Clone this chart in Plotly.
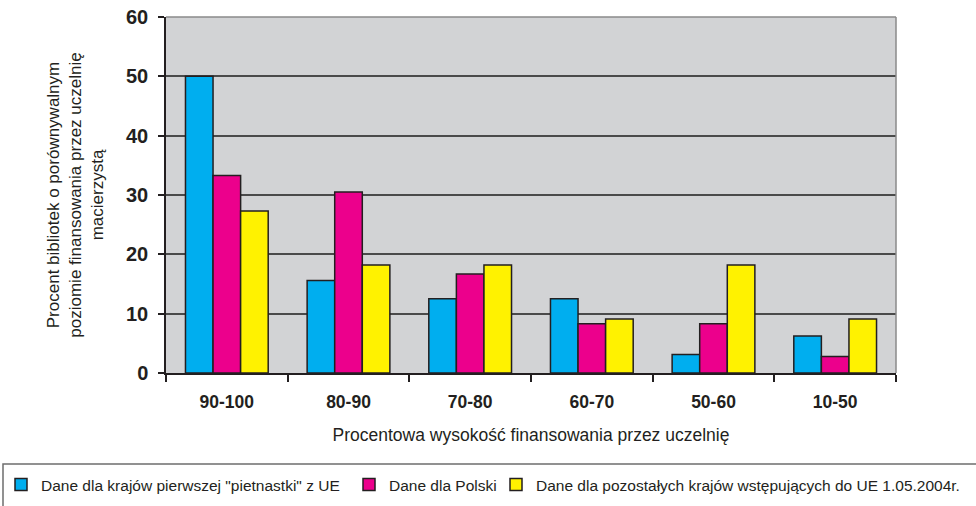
import plotly.graph_objects as go

# Funding ranges (percent of library budget covered by the parent university)
categories = ["90-100", "80-90", "70-80", "60-70", "50-60", "10-50"]

# Share of libraries in each funding range (%)
eu15_values = [50.0, 15.6, 12.5, 12.5, 3.1, 6.25]
poland_values = [33.3, 30.5, 16.7, 8.3, 8.3, 2.8]
new_members_values = [27.3, 18.2, 18.2, 9.1, 18.2, 9.1]

series_names = [
    'Dane dla krajów pierwszej "pietnastki" z UE',
    "Dane dla Polski",
    "Dane dla pozostałych krajów wstępujących do UE 1.05.2004r.",
]
series_colors = ["#00AEEF", "#EC008C", "#FFF200"]

y_ticks = [0, 10, 20, 30, 40, 50, 60]

FONT = "Arial, Liberation Sans, sans-serif"
INK = "#231F20"

W, H = 976, 506
ml, mr, mt, mb = 166, 80, 17, 133
pw, ph = W - ml - mr, H - mt - mb


def px_x(px):
    return (px - ml) / pw


def px_y(py):
    return (mt + ph - py) / ph


# each series gets its own one-entry legend so the entries sit in one row
legend_ids = ["legend", "legend2", "legend3"]
legend_left_px = [1, 349, 496]

fig = go.Figure()
for name, vals, col, lid in zip(series_names,
                                [eu15_values, poland_values, new_members_values],
                                series_colors, legend_ids):
    fig.add_trace(go.Bar(
        x=categories, y=vals, name=name, legend=lid,
        marker=dict(color=col, line=dict(color=INK, width=1.5)),
    ))

legend_layout = {}
for lid, left in zip(legend_ids, legend_left_px):
    legend_layout[lid] = dict(
        orientation="h",
        x=px_x(left), xanchor="left",
        y=px_y(468), yanchor="top",
        font=dict(size=15.5, family=FONT, color=INK),
        bgcolor="rgba(0,0,0,0)",
        itemwidth=30,
    )

fig.update_layout(
    width=W, height=H,
    margin=dict(l=ml, r=mr, t=mt, b=mb, pad=0, autoexpand=False),
    paper_bgcolor="white",
    plot_bgcolor="#D2D3D5",
    barmode="group",
    bargap=0.32,
    bargroupgap=0,
    font=dict(family=FONT, color=INK),
    showlegend=True,
    xaxis=dict(
        type="category",
        automargin=False,
        showline=True, linecolor=INK, linewidth=1.5,
        ticks="outside", tickson="boundaries", ticklen=7,
        tickcolor=INK, tickwidth=1.5,
        ticklabelstandoff=12,
        tickfont=dict(size=17.5, family=FONT, color=INK, weight="bold"),
        title=dict(text="Procentowa wysokość finansowania przez uczelnię",
                   font=dict(size=17.5, family=FONT, color=INK),
                   standoff=18),
        showgrid=False,
    ),
    yaxis=dict(
        range=[0, 60],
        tickvals=y_ticks,
        automargin=False,
        showline=True, linecolor=INK, linewidth=1.5,
        ticks="outside", ticklen=6, tickcolor=INK, tickwidth=1.5,
        ticklabelstandoff=6,
        tickfont=dict(size=20, family=FONT, color=INK, weight="bold"),
        showgrid=True, gridcolor="#4A4A4A", gridwidth=1.5,
        zeroline=False,
        title=dict(text="Procent bibliotek o porównywalnym<br>poziomie finansowania przez uczelnię<br>macierzystą",
                   font=dict(size=17, family=FONT, color=INK),
                   standoff=18),
    ),
    shapes=[
        # right and top border of the plotting area
        dict(type="line", xref="paper", yref="paper", x0=1, x1=1, y0=0, y1=1,
             line=dict(color="#8A8A8A", width=1.5)),
        dict(type="line", xref="paper", yref="paper", x0=0, x1=1, y0=1, y1=1,
             line=dict(color="#8A8A8A", width=1.5)),
        # frame around the legend
        dict(type="rect", xref="paper", yref="paper",
             x0=px_x(3), x1=px_x(W + 5),
             y0=px_y(464), y1=px_y(515),
             line=dict(color="#6E6E6E", width=1.5), fillcolor="rgba(0,0,0,0)"),
    ],
    **legend_layout,
)

fig.write_html("out.html")
